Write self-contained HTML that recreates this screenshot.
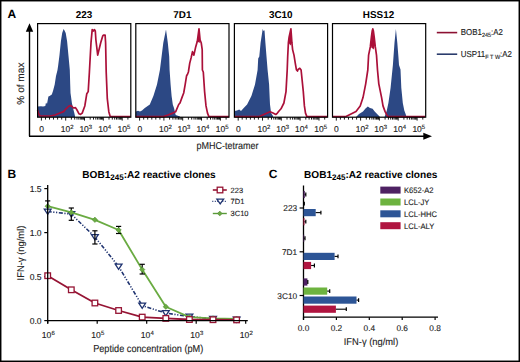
<!DOCTYPE html>
<html><head><meta charset="utf-8">
<style>
html,body{margin:0;padding:0;background:#fff;}
body{width:520px;height:362px;overflow:hidden;}
svg{display:block;font-family:"Liberation Sans",sans-serif;text-rendering:geometricPrecision;}
</style></head><body>
<svg width="520" height="362" viewBox="0 0 520 362">
<rect x="0" y="0" width="520" height="362" fill="#fff"/>
<rect x="0.7" y="0.7" width="518.6" height="360.6" fill="none" stroke="#000" stroke-width="1.5"/>
<text x="7.60" y="17.60" font-size="12" text-anchor="start" fill="#000" font-weight="bold">A</text>
<text x="84.00" y="18.10" font-size="9.9" text-anchor="middle" fill="#000" font-weight="bold">223</text>
<text x="182.40" y="18.10" font-size="9.9" text-anchor="middle" fill="#000" font-weight="bold">7D1</text>
<text x="280.70" y="18.10" font-size="9.9" text-anchor="middle" fill="#000" font-weight="bold">3C10</text>
<text x="378.50" y="18.10" font-size="9.9" text-anchor="middle" fill="#000" font-weight="bold">HSS12</text>
<path d="M29.5 136.3 V30 M29 136.3 H425" stroke="#000" stroke-width="1.4" fill="none"/>
<path d="M29.5 23.3 L25.8 31.8 L33.2 31.8 Z" fill="#000"/>
<path d="M432 136.3 L423.3 132.8 L423.3 139.8 Z" fill="#000"/>
<text transform="translate(23.70 83.60) rotate(-90) scale(1.0 1)" font-size="10.1" text-anchor="middle" fill="#222" stroke="#222" stroke-width="0.12">% of max</text>
<text transform="translate(227.40 148.70) scale(0.9 1)" font-size="10" text-anchor="middle" fill="#222" stroke="#222" stroke-width="0.12">pMHC-tetramer</text>
<line x1="436.8" y1="32.6" x2="457.2" y2="32.6" stroke="#8c1032" stroke-width="1.6"/>
<line x1="436.8" y1="54.2" x2="457.2" y2="54.2" stroke="#2a3c6c" stroke-width="1.6"/>
<text transform="translate(460.80 35.10) scale(0.92 1)" font-size="8.6" text-anchor="start" fill="#222" stroke="#222" stroke-width="0.12">BOB1<tspan font-size="6" dy="2">245</tspan><tspan dy="-2">:A2</tspan></text>
<text transform="translate(460.80 57.00) scale(0.92 1)" font-size="8.6" text-anchor="start" fill="#222" stroke="#222" stroke-width="0.12">USP11<tspan font-size="6" dy="2">F T W</tspan><tspan dy="-2">:A2</tspan></text>
<polygon fill="#2c4884" points="37.6,117 37.6,106.6 41,106.2 43,106.6 45.3,106 46,102.6 47,104 48.4,96.4 49.6,95.9 51.8,94.4 53,91 54.7,84.4 56,76 57.5,70 58.1,66 59.5,55 60.9,41.3 62.2,33 63.6,28.9 64.5,30.5 65.7,33 67.1,41.3 68.5,56 69.8,70 70.2,84 70.5,93 71.9,103 73,108 74,111.7 75,116 75,117"/>
<polygon fill="#2c4884" points="135.8,117 135.8,111.5 138,110.8 140,111.5 142,110.5 144.8,108 149.8,104.5 153.4,95.9 157,84.4 159.9,70 161.6,56.5 163.3,42.7 166,29.6 167.8,42.7 169.2,56.5 169.6,70 170.6,84.4 171.6,95.9 172.8,104.5 174,108 175.7,115 180,116.5 180,117"/>
<polygon fill="#2c4884" points="234.4,117 234.4,111 237,110.5 239.2,109.5 241,111 244.2,107.4 247.1,104.5 251.4,95.9 255,84.4 257.6,70 258.2,58.6 259.3,56.5 260.6,42.7 262.7,28.9 263.5,31 264.5,30.3 265.4,42.7 266.5,56.5 267.6,70 269.1,84.4 269.6,95.9 270,104.5 271.1,113.1 273,116 273,117"/>
<polygon fill="#2c4884" points="356,117 359,114 363,111.4 365.5,108.5 367.8,106.6 370,108 372.6,108.7 374.7,111.4 378.1,114.9 380,117"/>
<polygon fill="#2c4884" points="384.6,117 386.8,110.6 388.4,103 390.6,87.8 392.9,65 393.5,56.5 394.5,42.7 395.9,28.9 397.3,42.7 398.4,56.5 399,65 400.5,69.6 401.3,87.8 402.8,103 404.3,110.6 405.8,114.4 406.5,117"/>
<polygon fill="#ab1039" points="372.8,29.5 374.3,38 375.1,45 373.6,49.5 371.4,47.5 370.7,45 371.5,38"/>
<polygon fill="#ab1039" points="199,29.5 200.1,40 199.6,43 197.5,41.5"/>
<polygon fill="#ab1039" points="290.9,29.5 291.9,42.7 290.4,45.5 288.6,42.7 289.1,37.2"/>
<polyline fill="none" stroke="#ab1039" stroke-width="1.7" stroke-linejoin="round" points="37.6,110 38.5,113.5 40,116 50,116 55,115 60,113 63.6,111.6 66,108.8 69,106 70.5,105.5 72,106.5 73.4,108 75.5,107.6 77,110 79,113.8 80.5,114.4 82.2,113.1 84.8,106 86.8,93.7 88.2,91.6 89.4,72 91,42.7 92.2,29.6 93.5,31 94.5,29.6 95.3,31 95.9,40 97.7,55.1 100.7,42.7 102.8,35.8 103.5,35.1 105.1,35.1 105.6,42.7 106.2,72 107.3,98.7 108.8,111.7 110.2,116.5 130.5,116.5"/>
<polyline fill="none" stroke="#ab1039" stroke-width="1.7" stroke-linejoin="round" points="135.8,116.6 163.5,116.6 168,115 172.8,113.1 175.7,111.7 178.7,104.5 180,103 182.3,96.6 183.7,93 185.2,84.4 186.6,75.7 187.4,74.5 188.4,72 189.7,63.4 191.1,57.9 192.5,51.7 193.9,55.1 195.7,46.9 197.3,41.3 199,28.9 200.1,40 201.2,42.7 202.2,49.6 202.4,70 203.3,72 204.6,91.6 206,105.9 207.5,113.1 208.9,116.6 229,116.6"/>
<polyline fill="none" stroke="#ab1039" stroke-width="1.7" stroke-linejoin="round" points="234.4,116.6 259.3,116.6 265,114 270.1,111.7 273,113 275.8,114.5 277.4,113.1 279,111 281,108.8 283.9,103 286,91.6 287.2,70 287.7,56.5 288.4,42.7 289.1,37.2 290.9,28.9 291.9,42.7 292.6,49.6 294,55.1 295.3,63.4 296.4,69.7 297.5,71 298.1,69.5 299.8,68.3 301.1,70 301.3,72 303.3,91.6 304.4,105.9 305.5,113.1 306.9,116.6 327.5,116.6"/>
<polyline fill="none" stroke="#ab1039" stroke-width="1.7" stroke-linejoin="round" points="332.5,116.6 346,116.5 350.5,114.2 356,111.4 360.2,105.9 363,97.6 365.7,83.8 367.8,70 368.6,55.1 370.3,46.9 371.4,37.2 372.2,31 372.8,28.9 373.4,31 374.2,37.2 375.3,46.9 376.5,55.1 377.5,70 378.8,83.8 381.6,97.6 383,105.9 385,111.4 386.4,114.2 388,116.6 425,116.6"/>
<rect x="37.6" y="23.6" width="93.2" height="93.6" fill="none" stroke="#000" stroke-width="1.2"/>
<rect x="135.8" y="23.6" width="93.2" height="93.6" fill="none" stroke="#000" stroke-width="1.2"/>
<rect x="234.4" y="23.6" width="93.2" height="93.6" fill="none" stroke="#000" stroke-width="1.2"/>
<rect x="332.5" y="23.6" width="93.2" height="93.6" fill="none" stroke="#000" stroke-width="1.2"/>
<path d="M41.4 117.2 v3.4 M65.7 117.2 v3.4 M84.5 117.2 v3.4 M103.3 117.2 v3.4 M122.2 117.2 v3.4 M71.4 117.2 v2.4 M74.7 117.2 v2.4 M77.0 117.2 v2.4 M78.8 117.2 v2.4 M80.3 117.2 v2.4 M81.6 117.2 v2.4 M82.7 117.2 v2.4 M83.6 117.2 v2.4 M90.2 117.2 v2.4 M93.5 117.2 v2.4 M95.8 117.2 v2.4 M97.6 117.2 v2.4 M99.1 117.2 v2.4 M100.4 117.2 v2.4 M101.5 117.2 v2.4 M102.4 117.2 v2.4 M109.0 117.2 v2.4 M112.3 117.2 v2.4 M114.7 117.2 v2.4 M116.5 117.2 v2.4 M118.0 117.2 v2.4 M119.3 117.2 v2.4 M120.4 117.2 v2.4 M121.3 117.2 v2.4 M45.5 117.2 v2.4 M49.5 117.2 v2.4 M53.5 117.2 v2.4 M57.6 117.2 v2.4 M61.7 117.2 v2.4 M127.9 117.2 v2.4 " stroke="#000" stroke-width="0.9" fill="none"/>
<path d="M139.6 117.2 v3.4 M163.9 117.2 v3.4 M182.7 117.2 v3.4 M201.5 117.2 v3.4 M220.4 117.2 v3.4 M169.6 117.2 v2.4 M172.9 117.2 v2.4 M175.2 117.2 v2.4 M177.0 117.2 v2.4 M178.5 117.2 v2.4 M179.8 117.2 v2.4 M180.9 117.2 v2.4 M181.8 117.2 v2.4 M188.4 117.2 v2.4 M191.7 117.2 v2.4 M194.0 117.2 v2.4 M195.8 117.2 v2.4 M197.3 117.2 v2.4 M198.6 117.2 v2.4 M199.7 117.2 v2.4 M200.6 117.2 v2.4 M207.2 117.2 v2.4 M210.5 117.2 v2.4 M212.9 117.2 v2.4 M214.7 117.2 v2.4 M216.2 117.2 v2.4 M217.5 117.2 v2.4 M218.6 117.2 v2.4 M219.5 117.2 v2.4 M143.7 117.2 v2.4 M147.7 117.2 v2.4 M151.8 117.2 v2.4 M155.8 117.2 v2.4 M159.9 117.2 v2.4 M226.1 117.2 v2.4 " stroke="#000" stroke-width="0.9" fill="none"/>
<path d="M238.2 117.2 v3.4 M262.5 117.2 v3.4 M281.3 117.2 v3.4 M300.1 117.2 v3.4 M319.0 117.2 v3.4 M268.2 117.2 v2.4 M271.5 117.2 v2.4 M273.8 117.2 v2.4 M275.6 117.2 v2.4 M277.1 117.2 v2.4 M278.4 117.2 v2.4 M279.5 117.2 v2.4 M280.4 117.2 v2.4 M287.0 117.2 v2.4 M290.3 117.2 v2.4 M292.6 117.2 v2.4 M294.4 117.2 v2.4 M295.9 117.2 v2.4 M297.2 117.2 v2.4 M298.3 117.2 v2.4 M299.2 117.2 v2.4 M305.8 117.2 v2.4 M309.1 117.2 v2.4 M311.5 117.2 v2.4 M313.3 117.2 v2.4 M314.8 117.2 v2.4 M316.1 117.2 v2.4 M317.2 117.2 v2.4 M318.1 117.2 v2.4 M242.2 117.2 v2.4 M246.3 117.2 v2.4 M250.4 117.2 v2.4 M254.4 117.2 v2.4 M258.4 117.2 v2.4 M324.7 117.2 v2.4 " stroke="#000" stroke-width="0.9" fill="none"/>
<path d="M336.3 117.2 v3.4 M360.6 117.2 v3.4 M379.4 117.2 v3.4 M398.2 117.2 v3.4 M417.1 117.2 v3.4 M366.3 117.2 v2.4 M369.6 117.2 v2.4 M371.9 117.2 v2.4 M373.7 117.2 v2.4 M375.2 117.2 v2.4 M376.5 117.2 v2.4 M377.6 117.2 v2.4 M378.5 117.2 v2.4 M385.1 117.2 v2.4 M388.4 117.2 v2.4 M390.7 117.2 v2.4 M392.5 117.2 v2.4 M394.0 117.2 v2.4 M395.3 117.2 v2.4 M396.4 117.2 v2.4 M397.3 117.2 v2.4 M403.9 117.2 v2.4 M407.2 117.2 v2.4 M409.6 117.2 v2.4 M411.4 117.2 v2.4 M412.9 117.2 v2.4 M414.2 117.2 v2.4 M415.3 117.2 v2.4 M416.2 117.2 v2.4 M340.4 117.2 v2.4 M344.4 117.2 v2.4 M348.5 117.2 v2.4 M352.5 117.2 v2.4 M356.6 117.2 v2.4 M422.8 117.2 v2.4 " stroke="#000" stroke-width="0.9" fill="none"/>
<text x="39.20" y="131.80" font-size="8.5" text-anchor="start" fill="#222" stroke="#222" stroke-width="0.12">0</text>
<text x="60.80" y="131.80" font-size="8.5" text-anchor="start" fill="#222" stroke="#222" stroke-width="0.12">10<tspan font-size="6" dy="-3.2">2</tspan></text>
<text x="79.40" y="131.80" font-size="8.5" text-anchor="start" fill="#222" stroke="#222" stroke-width="0.12">10<tspan font-size="6" dy="-3.2">3</tspan></text>
<text x="98.30" y="131.80" font-size="8.5" text-anchor="start" fill="#222" stroke="#222" stroke-width="0.12">10<tspan font-size="6" dy="-3.2">4</tspan></text>
<text x="117.50" y="131.80" font-size="8.5" text-anchor="start" fill="#222" stroke="#222" stroke-width="0.12">10<tspan font-size="6" dy="-3.2">5</tspan></text>
<text x="137.40" y="131.80" font-size="8.5" text-anchor="start" fill="#222" stroke="#222" stroke-width="0.12">0</text>
<text x="159.00" y="131.80" font-size="8.5" text-anchor="start" fill="#222" stroke="#222" stroke-width="0.12">10<tspan font-size="6" dy="-3.2">2</tspan></text>
<text x="177.60" y="131.80" font-size="8.5" text-anchor="start" fill="#222" stroke="#222" stroke-width="0.12">10<tspan font-size="6" dy="-3.2">3</tspan></text>
<text x="196.50" y="131.80" font-size="8.5" text-anchor="start" fill="#222" stroke="#222" stroke-width="0.12">10<tspan font-size="6" dy="-3.2">4</tspan></text>
<text x="215.70" y="131.80" font-size="8.5" text-anchor="start" fill="#222" stroke="#222" stroke-width="0.12">10<tspan font-size="6" dy="-3.2">5</tspan></text>
<text x="236.00" y="131.80" font-size="8.5" text-anchor="start" fill="#222" stroke="#222" stroke-width="0.12">0</text>
<text x="257.60" y="131.80" font-size="8.5" text-anchor="start" fill="#222" stroke="#222" stroke-width="0.12">10<tspan font-size="6" dy="-3.2">2</tspan></text>
<text x="276.20" y="131.80" font-size="8.5" text-anchor="start" fill="#222" stroke="#222" stroke-width="0.12">10<tspan font-size="6" dy="-3.2">3</tspan></text>
<text x="295.10" y="131.80" font-size="8.5" text-anchor="start" fill="#222" stroke="#222" stroke-width="0.12">10<tspan font-size="6" dy="-3.2">4</tspan></text>
<text x="314.30" y="131.80" font-size="8.5" text-anchor="start" fill="#222" stroke="#222" stroke-width="0.12">10<tspan font-size="6" dy="-3.2">5</tspan></text>
<text x="334.10" y="131.80" font-size="8.5" text-anchor="start" fill="#222" stroke="#222" stroke-width="0.12">0</text>
<text x="355.70" y="131.80" font-size="8.5" text-anchor="start" fill="#222" stroke="#222" stroke-width="0.12">10<tspan font-size="6" dy="-3.2">2</tspan></text>
<text x="374.30" y="131.80" font-size="8.5" text-anchor="start" fill="#222" stroke="#222" stroke-width="0.12">10<tspan font-size="6" dy="-3.2">3</tspan></text>
<text x="393.20" y="131.80" font-size="8.5" text-anchor="start" fill="#222" stroke="#222" stroke-width="0.12">10<tspan font-size="6" dy="-3.2">4</tspan></text>
<text x="412.40" y="131.80" font-size="8.5" text-anchor="start" fill="#222" stroke="#222" stroke-width="0.12">10<tspan font-size="6" dy="-3.2">5</tspan></text>
<text x="7.60" y="177.60" font-size="12" text-anchor="start" fill="#000" font-weight="bold">B</text>
<text x="82.30" y="177.80" font-size="10.1" text-anchor="start" fill="#000" font-weight="bold">BOB1<tspan font-size="8" dy="2.4">245</tspan><tspan dy="-2.4">:A2 reactive clones</tspan></text>
<line x1="44.3" y1="320.6" x2="47.7" y2="320.6" stroke="#000" stroke-width="1.2"/>
<text x="41.60" y="323.70" font-size="8.6" text-anchor="end" fill="#222" stroke="#222" stroke-width="0.12">0.0</text>
<line x1="44.3" y1="276.6" x2="47.7" y2="276.6" stroke="#000" stroke-width="1.2"/>
<text x="41.60" y="279.70" font-size="8.6" text-anchor="end" fill="#222" stroke="#222" stroke-width="0.12">0.5</text>
<line x1="44.3" y1="232.6" x2="47.7" y2="232.6" stroke="#000" stroke-width="1.2"/>
<text x="41.60" y="235.70" font-size="8.6" text-anchor="end" fill="#222" stroke="#222" stroke-width="0.12">1.0</text>
<line x1="44.3" y1="188.6" x2="47.7" y2="188.6" stroke="#000" stroke-width="1.2"/>
<text x="41.60" y="191.70" font-size="8.6" text-anchor="end" fill="#222" stroke="#222" stroke-width="0.12">1.5</text>
<line x1="47.7" y1="320.6" x2="47.7" y2="323.8" stroke="#000" stroke-width="1.2"/>
<text x="48.30" y="337.90" font-size="8.6" text-anchor="middle" fill="#222" stroke="#222" stroke-width="0.12">10<tspan font-size="6" dy="-3.4">6</tspan></text>
<line x1="97.2" y1="320.6" x2="97.2" y2="323.8" stroke="#000" stroke-width="1.2"/>
<text x="97.80" y="337.90" font-size="8.6" text-anchor="middle" fill="#222" stroke="#222" stroke-width="0.12">10<tspan font-size="6" dy="-3.4">5</tspan></text>
<line x1="146.7" y1="320.6" x2="146.7" y2="323.8" stroke="#000" stroke-width="1.2"/>
<text x="147.30" y="337.90" font-size="8.6" text-anchor="middle" fill="#222" stroke="#222" stroke-width="0.12">10<tspan font-size="6" dy="-3.4">4</tspan></text>
<line x1="196.2" y1="320.6" x2="196.2" y2="323.8" stroke="#000" stroke-width="1.2"/>
<text x="196.80" y="337.90" font-size="8.6" text-anchor="middle" fill="#222" stroke="#222" stroke-width="0.12">10<tspan font-size="6" dy="-3.4">3</tspan></text>
<line x1="245.7" y1="320.6" x2="245.7" y2="323.8" stroke="#000" stroke-width="1.2"/>
<text x="246.30" y="337.90" font-size="8.6" text-anchor="middle" fill="#222" stroke="#222" stroke-width="0.12">10<tspan font-size="6" dy="-3.4">2</tspan></text>
<polyline points="47.7,211.5 71.3,214.1 94.9,237.0 118.6,266.5 142.2,305.6 165.8,313.1 189.4,316.6 213.0,318.8 236.6,319.5" fill="none" stroke="#1f3370" stroke-width="1.6" stroke-dasharray="4 1.6 1.2 1.6 1.2 1.6" stroke-linejoin="round"/>
<path d="M44.3 209.1 H51.1 L47.7 214.3 Z" fill="#fff" stroke="#1f3370" stroke-width="1.3"/>
<path d="M67.9 211.7 H74.7 L71.3 216.9 Z" fill="#fff" stroke="#1f3370" stroke-width="1.3"/>
<path d="M91.5 234.6 H98.3 L94.9 239.8 Z" fill="#fff" stroke="#1f3370" stroke-width="1.3"/>
<path d="M115.2 264.1 H122.0 L118.6 269.3 Z" fill="#fff" stroke="#1f3370" stroke-width="1.3"/>
<path d="M138.8 303.2 H145.6 L142.2 308.4 Z" fill="#fff" stroke="#1f3370" stroke-width="1.3"/>
<path d="M162.4 310.7 H169.2 L165.8 315.9 Z" fill="#fff" stroke="#1f3370" stroke-width="1.3"/>
<path d="M186.0 314.2 H192.8 L189.4 319.4 Z" fill="#fff" stroke="#1f3370" stroke-width="1.3"/>
<path d="M209.6 316.4 H216.4 L213.0 321.6 Z" fill="#fff" stroke="#1f3370" stroke-width="1.3"/>
<path d="M233.2 317.1 H240.0 L236.6 322.3 Z" fill="#fff" stroke="#1f3370" stroke-width="1.3"/>
<line x1="71.3" y1="214.1" x2="71.3" y2="208.0" stroke="#000" stroke-width="1.2"/>
<line x1="68.7" y1="208.0" x2="73.9" y2="208.0" stroke="#000" stroke-width="1.2"/>
<line x1="71.3" y1="214.1" x2="71.3" y2="220.3" stroke="#000" stroke-width="1.2"/>
<line x1="68.7" y1="220.3" x2="73.9" y2="220.3" stroke="#000" stroke-width="1.2"/>
<line x1="94.9" y1="237.0" x2="94.9" y2="230.8" stroke="#000" stroke-width="1.2"/>
<line x1="92.3" y1="230.8" x2="97.5" y2="230.8" stroke="#000" stroke-width="1.2"/>
<line x1="94.9" y1="237.0" x2="94.9" y2="244.0" stroke="#000" stroke-width="1.2"/>
<line x1="92.3" y1="244.0" x2="97.5" y2="244.0" stroke="#000" stroke-width="1.2"/>
<polyline points="47.7,206.2 71.3,212.4 94.9,219.8 118.6,230.0 142.2,269.6 165.8,306.7 189.4,317.1 213.0,318.4 236.6,318.8" fill="none" stroke="#6aab42" stroke-width="1.8" stroke-linejoin="round"/>
<line x1="47.7" y1="206.2" x2="47.7" y2="200.9" stroke="#000" stroke-width="1.2"/>
<line x1="45.1" y1="200.9" x2="50.3" y2="200.9" stroke="#000" stroke-width="1.2"/>
<line x1="118.6" y1="230.0" x2="118.6" y2="226.4" stroke="#000" stroke-width="1.2"/>
<line x1="116.0" y1="226.4" x2="121.2" y2="226.4" stroke="#000" stroke-width="1.2"/>
<line x1="118.6" y1="230.0" x2="118.6" y2="233.5" stroke="#000" stroke-width="1.2"/>
<line x1="116.0" y1="233.5" x2="121.2" y2="233.5" stroke="#000" stroke-width="1.2"/>
<line x1="142.2" y1="269.6" x2="142.2" y2="264.3" stroke="#000" stroke-width="1.2"/>
<line x1="139.6" y1="264.3" x2="144.8" y2="264.3" stroke="#000" stroke-width="1.2"/>
<line x1="142.2" y1="269.6" x2="142.2" y2="274.0" stroke="#000" stroke-width="1.2"/>
<line x1="139.6" y1="274.0" x2="144.8" y2="274.0" stroke="#000" stroke-width="1.2"/>
<path d="M47.7 203.5 L50.4 206.2 L47.7 208.9 L45.0 206.2 Z" fill="#6aab42" stroke="#4d8a30" stroke-width="0.5"/>
<path d="M71.3 209.7 L74.0 212.4 L71.3 215.1 L68.6 212.4 Z" fill="#6aab42" stroke="#4d8a30" stroke-width="0.5"/>
<path d="M94.9 217.1 L97.6 219.8 L94.9 222.5 L92.2 219.8 Z" fill="#6aab42" stroke="#4d8a30" stroke-width="0.5"/>
<path d="M118.6 227.3 L121.3 230.0 L118.6 232.7 L115.9 230.0 Z" fill="#6aab42" stroke="#4d8a30" stroke-width="0.5"/>
<path d="M142.2 266.9 L144.9 269.6 L142.2 272.3 L139.5 269.6 Z" fill="#6aab42" stroke="#4d8a30" stroke-width="0.5"/>
<path d="M165.8 304.0 L168.5 306.7 L165.8 309.4 L163.1 306.7 Z" fill="#6aab42" stroke="#4d8a30" stroke-width="0.5"/>
<path d="M189.4 314.4 L192.1 317.1 L189.4 319.8 L186.7 317.1 Z" fill="#6aab42" stroke="#4d8a30" stroke-width="0.5"/>
<path d="M213.0 315.7 L215.7 318.4 L213.0 321.1 L210.3 318.4 Z" fill="#6aab42" stroke="#4d8a30" stroke-width="0.5"/>
<path d="M236.6 316.1 L239.3 318.8 L236.6 321.5 L233.9 318.8 Z" fill="#6aab42" stroke="#4d8a30" stroke-width="0.5"/>
<polyline points="47.7,275.7 71.3,289.8 94.9,303.0 118.6,310.5 142.2,317.1 165.8,318.4 189.4,319.5 213.0,319.7 236.6,319.9" fill="none" stroke="#961434" stroke-width="1.8" stroke-linejoin="round"/>
<rect x="44.9" y="272.9" width="5.6" height="5.6" fill="#fff" stroke="#961434" stroke-width="1.3"/>
<rect x="68.5" y="287.0" width="5.6" height="5.6" fill="#fff" stroke="#961434" stroke-width="1.3"/>
<rect x="92.1" y="300.2" width="5.6" height="5.6" fill="#fff" stroke="#961434" stroke-width="1.3"/>
<rect x="115.8" y="307.7" width="5.6" height="5.6" fill="#fff" stroke="#961434" stroke-width="1.3"/>
<rect x="139.4" y="314.3" width="5.6" height="5.6" fill="#fff" stroke="#961434" stroke-width="1.3"/>
<rect x="163.0" y="315.6" width="5.6" height="5.6" fill="#fff" stroke="#961434" stroke-width="1.3"/>
<rect x="186.6" y="316.7" width="5.6" height="5.6" fill="#fff" stroke="#961434" stroke-width="1.3"/>
<rect x="210.2" y="316.9" width="5.6" height="5.6" fill="#fff" stroke="#961434" stroke-width="1.3"/>
<rect x="233.8" y="317.1" width="5.6" height="5.6" fill="#fff" stroke="#961434" stroke-width="1.3"/>
<path d="M47.7 185 V323.6 M47.1 320.6 H247.8" stroke="#000" stroke-width="1.3" fill="none"/>
<line x1="212.8" y1="190" x2="226.8" y2="190" stroke="#961434" stroke-width="1.6"/>
<rect x="217.2" y="187.2" width="5.6" height="5.6" fill="#fff" stroke="#961434" stroke-width="1.3"/>
<line x1="212.3" y1="201.4" x2="226.8" y2="201.4" stroke="#1f3370" stroke-width="1.4" stroke-dasharray="1 1.5"/>
<path d="M216.9 199.2 H223.6 L220.2 203.8 Z" fill="#fff" stroke="#1f3370" stroke-width="1.3"/>
<line x1="212.8" y1="213.5" x2="226.8" y2="213.5" stroke="#5a9a3a" stroke-width="1.4"/>
<path d="M219.8 211.1 L222.2 213.5 L219.8 215.9 L217.4 213.5 Z" fill="#6aab42" stroke="#4a7a30" stroke-width="0.5"/>
<text x="230.60" y="192.50" font-size="7.5" text-anchor="start" fill="#222" stroke="#222" stroke-width="0.12">223</text>
<text x="230.60" y="204.00" font-size="7.5" text-anchor="start" fill="#222" stroke="#222" stroke-width="0.12">7D1</text>
<text x="230.60" y="215.60" font-size="7.5" text-anchor="start" fill="#222" stroke="#222" stroke-width="0.12">3C10</text>
<text transform="translate(24.00 253.00) rotate(-90) scale(0.96 1)" font-size="9.8" text-anchor="middle" fill="#222" stroke="#222" stroke-width="0.12">IFN-γ (ng/ml)</text>
<text transform="translate(148.20 351.60) scale(0.9 1)" font-size="10.2" text-anchor="middle" fill="#222" stroke="#222" stroke-width="0.12">Peptide concentration (pM)</text>
<text x="268.70" y="177.60" font-size="12" text-anchor="start" fill="#000" font-weight="bold">C</text>
<text x="304.00" y="177.60" font-size="10.1" text-anchor="start" fill="#000" font-weight="bold">BOB1<tspan font-size="8" dy="2.4">245</tspan><tspan dy="-2.4">:A2 reactive clones</tspan></text>
<path d="M303.5 185.5 V319.8 M302.9 317.2 H438" stroke="#000" stroke-width="1.3" fill="none"/>
<line x1="303.5" y1="317.2" x2="303.5" y2="320.0" stroke="#000" stroke-width="1.2"/>
<text x="303.50" y="331.20" font-size="8.3" text-anchor="middle" fill="#222" stroke="#222" stroke-width="0.12">0.0</text>
<line x1="336.4" y1="317.2" x2="336.4" y2="320.0" stroke="#000" stroke-width="1.2"/>
<text x="336.40" y="331.20" font-size="8.3" text-anchor="middle" fill="#222" stroke="#222" stroke-width="0.12">0.2</text>
<line x1="369.3" y1="317.2" x2="369.3" y2="320.0" stroke="#000" stroke-width="1.2"/>
<text x="369.30" y="331.20" font-size="8.3" text-anchor="middle" fill="#222" stroke="#222" stroke-width="0.12">0.4</text>
<line x1="402.2" y1="317.2" x2="402.2" y2="320.0" stroke="#000" stroke-width="1.2"/>
<text x="402.20" y="331.20" font-size="8.3" text-anchor="middle" fill="#222" stroke="#222" stroke-width="0.12">0.6</text>
<line x1="435.1" y1="317.2" x2="435.1" y2="320.0" stroke="#000" stroke-width="1.2"/>
<text x="435.10" y="331.20" font-size="8.3" text-anchor="middle" fill="#222" stroke="#222" stroke-width="0.12">0.8</text>
<line x1="299.6" y1="208.0" x2="303.5" y2="208.0" stroke="#000" stroke-width="1.2"/>
<text x="297.20" y="211.00" font-size="8.3" text-anchor="end" fill="#222" stroke="#222" stroke-width="0.12">223</text>
<rect x="303.5" y="190.9" width="1.3" height="7.2" fill="#4e2163"/>
<line x1="304.8" y1="194.5" x2="305.8" y2="194.5" stroke="#000" stroke-width="1.1"/>
<line x1="305.8" y1="192.6" x2="305.8" y2="196.4" stroke="#000" stroke-width="1.2"/>
<line x1="303.5" y1="203.6" x2="304.3" y2="203.6" stroke="#000" stroke-width="1.1"/>
<line x1="304.3" y1="201.7" x2="304.3" y2="205.5" stroke="#000" stroke-width="1.2"/>
<rect x="303.5" y="209.0" width="12.2" height="7.2" fill="#2d5596"/>
<line x1="315.7" y1="212.6" x2="320.9" y2="212.6" stroke="#000" stroke-width="1.1"/>
<line x1="320.9" y1="210.7" x2="320.9" y2="214.5" stroke="#000" stroke-width="1.2"/>
<rect x="303.5" y="218.1" width="1.0" height="7.2" fill="#b01540"/>
<line x1="304.5" y1="221.7" x2="305.8" y2="221.7" stroke="#000" stroke-width="1.1"/>
<line x1="305.8" y1="219.8" x2="305.8" y2="223.6" stroke="#000" stroke-width="1.2"/>
<line x1="299.6" y1="251.8" x2="303.5" y2="251.8" stroke="#000" stroke-width="1.2"/>
<text x="297.20" y="254.75" font-size="8.3" text-anchor="end" fill="#222" stroke="#222" stroke-width="0.12">7D1</text>
<rect x="303.5" y="234.7" width="0.7" height="7.2" fill="#4e2163"/>
<line x1="304.2" y1="238.2" x2="305.0" y2="238.2" stroke="#000" stroke-width="1.1"/>
<line x1="305.0" y1="236.3" x2="305.0" y2="240.2" stroke="#000" stroke-width="1.2"/>
<rect x="303.5" y="252.8" width="31.1" height="7.2" fill="#2d5596"/>
<line x1="334.6" y1="256.4" x2="338.0" y2="256.4" stroke="#000" stroke-width="1.1"/>
<line x1="338.0" y1="254.5" x2="338.0" y2="258.2" stroke="#000" stroke-width="1.2"/>
<rect x="303.5" y="261.9" width="7.6" height="7.2" fill="#b01540"/>
<line x1="311.1" y1="265.5" x2="314.4" y2="265.5" stroke="#000" stroke-width="1.1"/>
<line x1="314.4" y1="263.6" x2="314.4" y2="267.4" stroke="#000" stroke-width="1.2"/>
<line x1="299.6" y1="295.5" x2="303.5" y2="295.5" stroke="#000" stroke-width="1.2"/>
<text x="297.20" y="298.50" font-size="8.3" text-anchor="end" fill="#222" stroke="#222" stroke-width="0.12">3C10</text>
<rect x="303.5" y="278.4" width="3.9" height="7.2" fill="#4e2163"/>
<line x1="307.4" y1="282.0" x2="307.8" y2="282.0" stroke="#000" stroke-width="1.1"/>
<line x1="307.8" y1="280.1" x2="307.8" y2="283.9" stroke="#000" stroke-width="1.2"/>
<rect x="303.5" y="287.5" width="23.7" height="7.2" fill="#6db33f"/>
<line x1="327.2" y1="291.1" x2="329.7" y2="291.1" stroke="#000" stroke-width="1.1"/>
<line x1="329.7" y1="289.2" x2="329.7" y2="293.0" stroke="#000" stroke-width="1.2"/>
<rect x="303.5" y="296.5" width="53.0" height="7.2" fill="#2d5596"/>
<line x1="356.5" y1="300.1" x2="358.6" y2="300.1" stroke="#000" stroke-width="1.1"/>
<line x1="358.6" y1="298.2" x2="358.6" y2="302.0" stroke="#000" stroke-width="1.2"/>
<rect x="303.5" y="305.6" width="32.4" height="7.2" fill="#b01540"/>
<line x1="335.9" y1="309.2" x2="346.3" y2="309.2" stroke="#000" stroke-width="1.1"/>
<line x1="346.3" y1="307.3" x2="346.3" y2="311.1" stroke="#000" stroke-width="1.2"/>
<rect x="380.3" y="186.6" width="20.3" height="7" fill="#4e2163"/>
<text transform="translate(404.00 193.20) scale(0.95 1)" font-size="8" text-anchor="start" fill="#222" stroke="#222" stroke-width="0.12">K652-A2</text>
<rect x="380.3" y="198.5" width="20.3" height="7" fill="#6db33f"/>
<text transform="translate(404.00 205.10) scale(0.95 1)" font-size="8" text-anchor="start" fill="#222" stroke="#222" stroke-width="0.12">LCL-JY</text>
<rect x="380.3" y="210.3" width="20.3" height="7" fill="#2d5596"/>
<text transform="translate(404.00 216.90) scale(0.95 1)" font-size="8" text-anchor="start" fill="#222" stroke="#222" stroke-width="0.12">LCL-HHC</text>
<rect x="380.3" y="222.2" width="20.3" height="7" fill="#b01540"/>
<text transform="translate(404.00 228.80) scale(0.95 1)" font-size="8" text-anchor="start" fill="#222" stroke="#222" stroke-width="0.12">LCL-ALY</text>
<text transform="translate(371.00 345.40) scale(0.955 1)" font-size="9.8" text-anchor="middle" fill="#222" stroke="#222" stroke-width="0.12">IFN-γ (ng/ml)</text>
</svg>
</body></html>
